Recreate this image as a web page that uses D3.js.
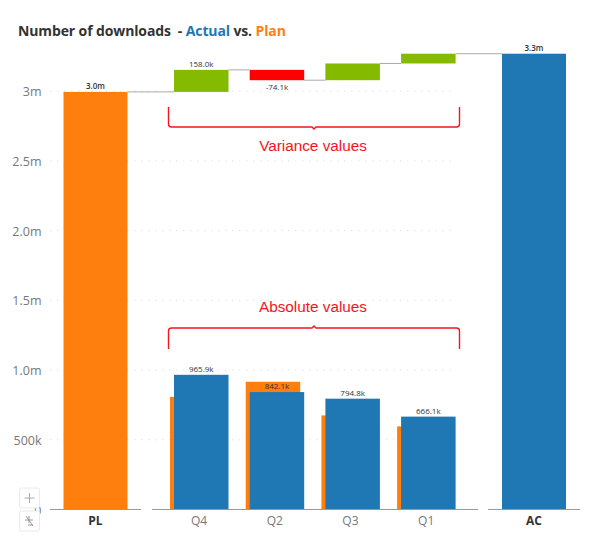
<!DOCTYPE html>
<html><head><meta charset="utf-8">
<script src="https://cdn.jsdelivr.net/npm/d3@7/dist/d3.min.js"></script>
<style>html,body{margin:0;padding:0;background:#fff}svg{display:block}text{font-family:"Open Sans",sans-serif}</style>
</head><body><svg id="c" width="603" height="547"></svg>
<script>
const quarters = ["Q4","Q2","Q3","Q1"];
const actual = [965.9,842.1,794.8,666.1];
const plan = [807.9,916.2,674.8,596.1];
const actualLabels = ["965.9k","842.1k","794.8k","666.1k"];
const varianceLabels = ["158.0k","-74.1k","",""];
const planTotal = 2995.0, actualTotal = 3268.9;
const planTotalLabel = "3.0m", actualTotalLabel = "3.3m";
const yTicks = [0,500,1000,1500,2000,2500,3000];
const yTickLabels = ["0","500k","1.0m","1.5m","2.0m","2.5m","3m"];
const titleParts = [["Number of downloads\u00a0\u00a0- ","#333333"],["Actual","#1F77B4"],[" vs. ","#333333"],["Plan","#FF7F0E"]];

const C = {actual:"#1F77B4",plan:"#FF7F0E",up:"#84BA00",down:"#FF0000",axis:"#999",text:"#777",dark:"#333",red:"#F5141E"};
const svg = d3.select("#c");
const y = d3.scaleLinear().domain([0,3000]).range([509.5,91.2]);
const xq = d3.scaleBand().domain(quarters).range([161.2,464]);
const xt = d3.scalePoint().domain(["PL","AC"]).range([95.5,534]);
const barW = 54.5, totW = 64, off = 2.2, labelSize = "8px";
const qc = q => xq(q)+xq.bandwidth()/2;

// title
const t = svg.append("text").attr("x",18).attr("y",36).style("font-size","14px").style("font-weight",700).style("letter-spacing","-0.12px");
titleParts.forEach(p=>t.append("tspan").attr("fill",p[1]).text(p[0]));

// gridlines
const grid = svg.append("g");
yTicks.slice(1).forEach(v=>grid.append("line").attr("x1",50).attr("x2",456).attr("y1",y(v)).attr("y2",y(v))
  .attr("stroke","#e2e2e2").attr("stroke-width",1).attr("stroke-dasharray","1.5 5.5"));
yTicks.forEach((v,i)=>svg.append("text").attr("x",41.5).attr("y",y(v)+5).attr("text-anchor","end")
  .attr("fill",C.text).style("font-size","12.5px").text(yTickLabels[i]));

// connectors and waterfall
let cum = planTotal;
const steps = quarters.map((q,i)=>{const v=actual[i]-plan[i];const s={q,i,v,from:cum,to:cum+v};cum+=v;return s;});
const conn = svg.append("g").attr("stroke","#aaa").attr("stroke-width",1);
const blueL = q => qc(q)-barW/2+off, blueR = q => qc(q)+barW/2+off;
let prevX = xt("PL")+totW/2, prevV = planTotal;
steps.forEach(s=>{conn.append("line").attr("x1",prevX).attr("x2",blueL(s.q)).attr("y1",y(prevV)).attr("y2",y(prevV));
  prevX=blueR(s.q);prevV=s.to;});
conn.append("line").attr("x1",prevX).attr("x2",xt("AC")-totW/2).attr("y1",y(prevV)).attr("y2",y(prevV));

svg.append("g").selectAll("rect").data(steps).join("rect")
  .attr("x",d=>blueL(d.q)).attr("width",barW)
  .attr("y",d=>y(Math.max(d.from,d.to))).attr("height",d=>Math.abs(y(d.from)-y(d.to)))
  .attr("fill",d=>d.v>=0?C.up:C.down);

// totals
[["PL",planTotal,C.plan,planTotalLabel],["AC",actualTotal,C.actual,actualTotalLabel]].forEach(d=>{
  svg.append("rect").attr("x",xt(d[0])-totW/2).attr("width",totW).attr("y",y(d[1])).attr("height",y(0)-y(d[1])).attr("fill",d[2]);
  svg.append("text").attr("x",xt(d[0])).attr("y",y(d[1])-2.5).attr("text-anchor","middle").attr("fill",C.dark)
    .style("font-size",labelSize).style("font-weight",600).text(d[3]);
  svg.append("text").attr("x",xt(d[0])).attr("y",y(0)+15).attr("text-anchor","middle").attr("fill",C.dark)
    .style("font-size","12px").style("font-weight",700).text(d[0]);
});

// quarter bars
quarters.forEach((q,i)=>{
  svg.append("rect").attr("x",blueL(q)-4).attr("width",barW).attr("y",y(plan[i])).attr("height",y(0)-y(plan[i])).attr("fill",C.plan);
});
quarters.forEach((q,i)=>{
  svg.append("rect").attr("x",blueL(q)).attr("width",barW).attr("y",y(actual[i])).attr("height",y(0)-y(actual[i])).attr("fill",C.actual);
  svg.append("text").attr("x",blueL(q)+barW/2).attr("y",y(actual[i])-3).attr("text-anchor","middle").attr("fill",C.dark)
    .style("font-size",labelSize).text(actualLabels[i]);
  svg.append("text").attr("x",qc(q)).attr("y",y(0)+15).attr("text-anchor","middle").attr("fill",C.text)
    .style("font-size","12px").text(q);
});
steps.forEach(s=>{ if(!varianceLabels[s.i]) return;
  const up = s.v>=0;
  svg.append("text").attr("x",blueL(s.q)+barW/2).attr("y",up?y(s.to)-3:y(s.to)+9.5).attr("text-anchor","middle").attr("fill",C.dark)
    .style("font-size",labelSize).text(varianceLabels[s.i]);
});

// category axis segments
[[50,141],[152,478],[488,580]].forEach(r=>svg.append("line").attr("x1",r[0]).attr("x2",r[1]).attr("y1",y(0)).attr("y2",y(0))
  .attr("stroke",C.axis).attr("stroke-width",1));

// brackets
function bracket(x0,x1,yEnd,yBar,dir){
  const m=(x0+x1)/2, r=3, s=Math.sign(yBar-yEnd);
  svg.append("path").attr("fill","none").attr("stroke",C.red).attr("stroke-width",1.4)
   .attr("d",`M${x0},${yEnd}V${yBar-s*r}Q${x0},${yBar} ${x0+r},${yBar}H${m-2}L${m},${yBar+dir*2}L${m+2},${yBar}H${x1-r}Q${x1},${yBar} ${x1},${yBar-s*r}V${yEnd}`);
}
const bx0=168.5,bx1=459.5;
bracket(bx0,bx1,107,127,1);
bracket(bx0,bx1,349,328,-1);
[["Variance values",151],["Absolute values",312]].forEach(d=>svg.append("text").attr("x",(bx0+bx1)/2-1).attr("y",d[1]).attr("text-anchor","middle")
  .attr("fill",C.red).style("font-family","'Liberation Sans',Arial,sans-serif").style("font-size","15.3px").text(d[0]));

// zoom controls
[[19.5,488],[19.5,511]].forEach(p=>svg.append("rect").attr("x",p[0]).attr("y",p[1]).attr("width",20).attr("height",20).attr("rx",2)
  .attr("fill","#fff").attr("stroke","#eaeaea"));
svg.append("path").attr("d","M29.5,493V503M24.5,498H34.5").attr("stroke","#aaa").attr("fill","none");
svg.append("path").attr("d","M26,516L33,526M29,516V523M25,520H33M28,525H33").attr("stroke","#999").attr("fill","none");
</script></body></html>
